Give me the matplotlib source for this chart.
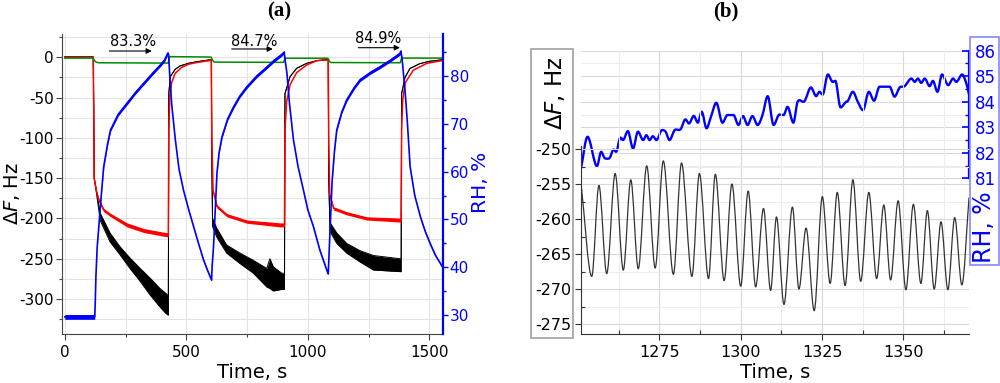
import matplotlib
matplotlib.use('Agg')
import matplotlib.pyplot as plt
from matplotlib.ticker import FixedLocator, MultipleLocator
from matplotlib.patches import Rectangle, PathPatch
from matplotlib.path import Path
import numpy as np

plt.rcParams['font.family'] = ['DejaVu Sans']
plt.rcParams['axes.unicode_minus'] = False
plt.rcParams['mathtext.fontset'] = 'dejavusans'

# ---------------- Panel (a) data ----------------
# black trace: upper / lower envelope of the noisy signal (Hz)
black_t = [0, 117, 119, 121, 130, 141, 145, 186, 227, 268, 310, 351, 392, 416, 426,
           428, 434, 454, 474, 508, 543, 590, 603, 605, 608, 625, 666, 721, 776, 831,
           844, 858, 893, 904, 906, 913, 927, 954, 995, 1037, 1080, 1084, 1086, 1091, 1119,
           1160, 1215, 1270, 1325, 1380, 1384, 1386, 1400, 1420, 1460, 1500, 1555]
black_top = [0.5, 0.5, -60, -150, -165, -186, -193, -218, -235, -249, -262, -274, -287, -293, -296,
             -45, -24, -15, -10.8, -7.5, -5.5, -3.4, -3, -130, -200, -212, -233, -243, -252, -262,
             -250, -260, -268, -268, -45, -38, -24, -13.7, -7.5, -4.2, -3, -3, -150, -205, -218,
             -231, -240, -246, -248, -250, -250, -45, -25, -14, -8, -5, -3]
black_bot = [0.5, 0.5, -60, -150, -168, -192, -202, -229, -245, -262, -278, -295, -310, -318, -320,
             -45, -24, -15, -10.8, -7.5, -5.5, -3.4, -3, -130, -210, -223, -243, -256, -268, -285,
             -287, -290, -288, -288, -45, -38, -24, -13.7, -7.5, -4.2, -3, -3, -150, -216, -231,
             -243, -254, -264, -265, -266, -266, -45, -25, -14, -8, -5, -3]

# red trace (Hz): centre line and noise half-width
red_t = [0, 117, 119, 121, 130, 140, 160, 188, 256, 325, 424, 426, 428, 432, 439,
         454, 481, 508, 543, 590, 603, 605, 610, 626, 667, 750, 887, 904, 906, 913,
         927, 954, 995, 1037, 1080, 1084, 1086, 1090, 1106, 1160, 1243, 1380, 1384, 1386, 1390,
         1400, 1434, 1490, 1555]
red_mid = [0, 0, -60, -150, -166, -177, -189.5, -195.7, -208, -215, -220.5, -220.5, -90, -50, -32,
           -20, -12.5, -8.7, -6.5, -4, -3.5, -100, -165, -185, -196, -204, -208, -208, -90, -55,
           -34, -19, -9.6, -4.2, -3, -3, -100, -170, -187.5, -193.6, -200, -202, -202, -90, -55,
           -32, -16, -7.5, -4]
red_noise = [0.5, 0.5, 0, 0, 1, 2, 2, 2, 2.5, 2.5, 2.5, 2.5, 0, 0, 0,
             0, 0, 0, 0, 0.5, 0.5, 0, 1, 2, 2, 2, 2.5, 2.5, 0, 0,
             0, 0, 0, 0, 0.5, 0.5, 0, 1, 2, 2, 2, 2.5, 2.5, 0, 0,
             0, 0, 0, 0]

# green trace (Hz)
green_t = [0, 117, 122, 128, 140, 426, 428, 432, 600, 603, 608, 615, 900, 904, 906,
           1080, 1084, 1088, 1095, 1380, 1384, 1386, 1555]
green_v = [-1, -1, -4, -6, -6.8, -7.2, -3, 0.8, 0.3, 0, -3.5, -6, -6.3, -3, -1.2,
           -1.2, -1.5, -5, -6.5, -6.8, -3, -1, -1]

# blue RH trace (%): centre and noise half-width
blue_t = [0, 123, 125, 128, 133, 140, 150, 160, 175, 188, 220, 256, 290, 325, 360,
          393, 410, 424, 427, 432, 440, 455, 470, 489, 510, 530, 550, 571, 590, 604,
          606, 612, 620, 626, 635, 647, 670, 695, 720, 750, 790, 832, 860, 893, 903,
          906, 914, 925, 941, 960, 982, 1000, 1023, 1050, 1078, 1084, 1086, 1092, 1100, 1110,
          1119, 1140, 1160, 1190, 1215, 1260, 1297, 1340, 1379, 1383, 1388, 1400, 1410, 1421, 1440,
          1463, 1483, 1503, 1525, 1555]
blue_mid = [29.6, 29.6, 32, 38, 44, 48.5, 55, 61, 65.5, 68.7, 72, 74.3, 76.5, 78.5, 80.5,
            82.3, 83.3, 84.8, 84.5, 80, 74, 66.6, 60.5, 56, 52, 48.5, 45, 41.5, 39, 37.3,
            40, 44.3, 53, 59.6, 64, 67.3, 71, 73.6, 75.8, 77.8, 80, 81.9, 83.2, 84.5, 85.0,
            83.5, 80.6, 74, 66.6, 61, 56.1, 52, 48.5, 43.5, 39.4, 38.6, 41, 48.5, 58, 64.5,
            68.7, 72.5, 75, 77.5, 79.2, 80.8, 81.9, 83.3, 84.7, 85.2, 83.5, 77, 70, 61, 55,
            50.6, 47.5, 45, 42.5, 40.0]
blue_noise = [0.5, 0.5, 0.05, 0.05, 0.1, 0.15, 0.2, 0.25, 0.3, 0.3, 0.35, 0.35, 0.35, 0.35, 0.35,
              0.35, 0.35, 0.35, 0.1, 0.05, 0.05, 0.05, 0.05, 0.05, 0.1, 0.1, 0.1, 0.15, 0.15, 0.15,
              0.05, 0.05, 0.1, 0.15, 0.2, 0.25, 0.3, 0.35, 0.35, 0.35, 0.35, 0.35, 0.35, 0.35, 0.3,
              0.05, 0.05, 0.05, 0.05, 0.05, 0.05, 0.1, 0.1, 0.15, 0.15, 0.15, 0.05, 0.1, 0.15, 0.2,
              0.25, 0.3, 0.35, 0.35, 0.35, 0.35, 0.35, 0.35, 0.35, 0.3, 0.05, 0.05, 0.05, 0.05, 0.1,
              0.1, 0.15, 0.15, 0.15, 0.15]

annot_text = ['83.3%', '84.7%', '84.9%']
annot_tx = [281, 779, 1290]
annot_ty = [20.0, 20.2, 23.6]
arrow_x0 = [183, 687, 1208]
arrow_x1 = [358, 856, 1379]
arrow_y = [7.8, 10.3, 11.9]

# ---------------- Panel (b) data ----------------
# black trace: successive extrema (Hz)
b_t = [1250.9, 1254.2, 1256.4, 1258.8, 1261.4, 1263.9, 1266.2, 1268.5, 1271.1, 1273.7,
       1276.2, 1279.3, 1281.8, 1285.0, 1287.3, 1290.1, 1292.2, 1294.9, 1297.3, 1300.0,
       1302.3, 1304.6, 1307.0, 1309.2, 1311.0, 1313.3, 1315.9, 1317.9, 1320.1, 1322.6,
       1325.1, 1327.5, 1329.7, 1332.1, 1334.5, 1336.9, 1339.4, 1341.8, 1344.0, 1346.1,
       1348.4, 1350.8, 1353.1, 1355.4, 1357.4, 1359.5, 1361.6, 1363.7, 1365.8, 1368.0, 1370.2]
b_hz = [-254.9, -268.2, -255.2, -267.8, -253.5, -267.3, -254.4, -267.1, -252.4, -267.0,
        -251.7, -267.9, -252.0, -268.2, -253.5, -268.5, -253.6, -268.8, -255.0, -269.6,
        -256.0, -269.7, -258.5, -270.2, -259.7, -272.2, -258.3, -270.0, -261.3, -273.1,
        -256.8, -269.2, -256.2, -269.5, -254.4, -268.9, -256.2, -268.5, -258.0, -268.7,
        -257.4, -270.1, -257.9, -269.2, -258.8, -270.0, -260.4, -270.1, -259.8, -269.4, -257.0]

# blue RH trace (%)
b_rh_t = [1250.9, 1252.9, 1255.8, 1257.1, 1258.3, 1259.7, 1260.9, 1261.7, 1263.0, 1263.8,
          1265.3, 1266.9, 1268.4, 1270.0, 1271.0, 1272.0, 1273.0, 1274.1, 1275.8, 1276.9,
          1278.1, 1279.7, 1281.5, 1283.0, 1284.1, 1285.6, 1286.8, 1288.0, 1289.5, 1290.8,
          1292.5, 1294.4, 1295.9, 1297.8, 1299.3, 1300.7, 1302.1, 1303.6, 1305.2, 1306.7,
          1308.3, 1310.1, 1311.9, 1313.2, 1314.4, 1316.2, 1317.5, 1319.6, 1321.6, 1323.2,
          1324.2, 1325.2, 1326.8, 1328.3, 1329.1, 1330.7, 1332.4, 1332.9, 1334.5, 1336.0,
          1337.6, 1339.4, 1341.0, 1342.7, 1345.8, 1347.3, 1348.9, 1350.4, 1352.5, 1353.5,
          1354.5, 1355.5, 1356.6, 1358.1, 1359.1, 1360.5, 1361.9, 1363.8, 1365.3, 1366.3,
          1368.1, 1369.4, 1370.2]
b_rh = [81.39, 82.63, 81.48, 82.04, 81.78, 81.80, 82.13, 82.04, 82.60, 82.50,
        82.85, 82.17, 82.83, 82.50, 82.69, 82.50, 82.65, 82.50, 82.89, 82.83,
        82.50, 82.89, 82.92, 83.31, 83.15, 83.45, 83.18, 83.61, 82.96, 83.39,
        83.96, 83.18, 83.48, 83.48, 83.09, 83.44, 83.09, 83.44, 83.09, 83.48,
        84.22, 83.09, 83.50, 83.48, 83.80, 83.18, 84.00, 84.02, 84.56, 84.22,
        84.39, 84.28, 85.07, 84.78, 84.82, 83.78, 84.00, 84.02, 84.39, 84.00,
        83.67, 84.39, 84.04, 84.59, 84.59, 84.20, 84.56, 84.61, 84.91, 84.78,
        84.91, 84.74, 84.91, 84.61, 84.82, 84.39, 85.07, 84.65, 84.91, 84.78,
        85.07, 84.71, 84.29]

a_xticks = [0, 500, 1000, 1500]
a_yticks = [-300, -250, -200, -150, -100, -50, 0]
a_rhticks = [30, 40, 50, 60, 70, 80]
b_xticks = [1275, 1300, 1325, 1350]
b_yticks = [-275, -270, -265, -260, -255, -250]
b_rhticks = [81, 82, 83, 84, 85, 86]

BLUE = '#0000ff'
GRID = '#e3e3e3'


def smooth_patch(x, y, **kw):
    """Smooth (monotone cubic Bezier) rendering of a polyline through the given points."""
    x = np.asarray(x, float)
    y = np.asarray(y, float)
    n = len(x)
    m = np.zeros(n)
    for i in range(n):
        if i == 0:
            m[i] = (y[1] - y[0]) / (x[1] - x[0])
        elif i == n - 1:
            m[i] = (y[-1] - y[-2]) / (x[-1] - x[-2])
        else:
            d0 = y[i] - y[i - 1]
            d1 = y[i + 1] - y[i]
            if d0 * d1 <= 0:
                m[i] = 0.0
            else:
                m[i] = (y[i + 1] - y[i - 1]) / (x[i + 1] - x[i - 1])
    verts = [(x[0], y[0])]
    codes = [Path.MOVETO]
    for i in range(n - 1):
        dx = x[i + 1] - x[i]
        verts += [(x[i] + dx / 3, y[i] + m[i] * dx / 3),
                  (x[i + 1] - dx / 3, y[i + 1] - m[i + 1] * dx / 3),
                  (x[i + 1], y[i + 1])]
        codes += [Path.CURVE4] * 3
    return PathPatch(Path(verts, codes), fill=False, joinstyle='round',
                     capstyle='round', zorder=3, **kw)


fig = plt.figure(figsize=(10, 3.83), dpi=100)

# ================= Panel (a) =================
axA = fig.add_axes([0.062, 0.1271, 0.3807, 0.7833])
axA2 = axA.twinx()

axA.fill_between(black_t, black_bot, black_top, color='black', lw=0, zorder=2)
axA.plot(black_t, black_top, color='black', lw=0.7, zorder=2)
axA.plot(black_t, black_bot, color='black', lw=0.7, zorder=2)

rm = np.array(red_mid); rn = np.array(red_noise)
axA.fill_between(red_t, rm - rn, rm + rn, color='#ff0000', lw=0, zorder=3)
axA.plot(red_t, red_mid, color='#ff0000', lw=1.1, zorder=3)

axA.plot(green_t, green_v, color='#008a00', lw=1.1, zorder=3)

bm = np.array(blue_mid); bn = np.array(blue_noise)
axA2.fill_between(blue_t, bm - bn, bm + bn, color=BLUE, lw=0, zorder=3)
axA2.plot(blue_t, blue_mid, color=BLUE, lw=1.2, zorder=3)

for s, tx, ty, x0, x1, ay in zip(annot_text, annot_tx, annot_ty, arrow_x0, arrow_x1, arrow_y):
    axA.text(tx, ty, s, ha='center', va='center', fontsize=10.5, zorder=5)
    axA.annotate('', xy=(x1, ay), xytext=(x0, ay),
                 arrowprops=dict(arrowstyle='-|>', color='black', lw=0.8,
                                 mutation_scale=8, shrinkA=0, shrinkB=0), zorder=5)

axA.set_xlim(-11.5, 1555)
axA.set_ylim(-343.8, 28.5)
axA2.set_ylim(25.96, 88.72)

axA.xaxis.set_major_locator(FixedLocator(a_xticks))
axA.xaxis.set_minor_locator(MultipleLocator(250))
axA.yaxis.set_major_locator(FixedLocator(a_yticks))
axA.yaxis.set_minor_locator(MultipleLocator(25))
axA2.yaxis.set_major_locator(FixedLocator(a_rhticks))
axA2.yaxis.set_minor_locator(MultipleLocator(5))

axA.grid(which='both', color=GRID, lw=0.8)
axA.set_axisbelow(True)

for sp in ['top', 'right']:
    axA.spines[sp].set_visible(False)
for sp in ['top', 'left', 'bottom']:
    axA2.spines[sp].set_visible(False)
axA.spines['left'].set_color('#444444')
axA.spines['bottom'].set_color('#444444')
axA2.spines['right'].set_color(BLUE)
axA2.spines['right'].set_linewidth(1.6)

axA.tick_params(which='major', direction='out', length=4, width=0.8, color='#444444',
                labelsize=11, pad=2)
axA.tick_params(which='minor', direction='out', length=2.5, width=0.8, color='#444444')
axA.tick_params(axis='x', which='major', pad=4)
axA2.tick_params(which='major', direction='out', length=3.5, width=1, colors=BLUE,
                 labelsize=11, pad=1.5)
axA2.tick_params(which='minor', direction='out', length=2.5, width=1, colors=BLUE)

fig.text(0.0125, 1 - 193 / 383, r'$\mathit{ΔF}$, Hz', rotation=90, ha='center', va='center',
         fontsize=14)
fig.text(0.481, 1 - 182.5 / 383, 'RH, %', rotation=90, ha='center', va='center',
         fontsize=14.5, color=BLUE)
fig.text(0.252, 1 - 372 / 383, 'Time, s', ha='center', va='center', fontsize=14)
fig.text(0.279, 1 - 11.7 / 383, '(a)', ha='center', va='center', fontsize=15,
         family='Liberation Serif', weight='bold')

# ================= Panel (b) =================
axB = fig.add_axes([0.5807, 0.1271, 0.3883, 0.7405])
axB2 = axB.twinx()
axB.set_zorder(axB2.get_zorder() + 1)
axB.patch.set_visible(False)

axB.add_patch(smooth_patch(b_t, b_hz, ec='#333333', lw=0.9))
axB2.add_patch(smooth_patch(b_rh_t, b_rh, ec=BLUE, lw=1.7))

axB.set_xlim(1250.8, 1370.2)
axB.set_ylim(-276.47, -235.96)
axB2.set_ylim(74.89, 86.0)

axB.xaxis.set_major_locator(FixedLocator(b_xticks))
axB.xaxis.set_minor_locator(FixedLocator([1262.5, 1287.5, 1312.5, 1337.5, 1362.5]))
axB.yaxis.set_major_locator(FixedLocator(b_yticks))
axB.yaxis.set_minor_locator(FixedLocator([-272.5, -267.5, -262.5, -257.5, -252.5]))
axB2.yaxis.set_major_locator(FixedLocator(b_rhticks))
axB2.yaxis.set_minor_locator(FixedLocator([81.5, 82.5, 83.5, 84.5, 85.5]))

axB.grid(axis='x', which='major', color='#d8d8d8', lw=0.8)
axB.grid(axis='x', which='minor', color='#ededed', lw=0.8)
axB.grid(axis='y', which='major', color='#d8d8d8', lw=0.8)
axB.grid(axis='y', which='minor', color='#ededed', lw=0.8)
axB2.grid(axis='y', which='major', color='#d8d8d8', lw=0.8)
axB2.grid(axis='y', which='minor', color='#ededed', lw=0.8)
axB.set_axisbelow(True)
axB2.set_axisbelow(True)

for sp in ['top', 'right']:
    axB.spines[sp].set_visible(False)
for sp in ['top', 'left', 'bottom']:
    axB2.spines[sp].set_visible(False)
axB.spines['left'].set_bounds(-276.47, -249.6)
axB.spines['left'].set_color('#333333')
axB.spines['bottom'].set_color('#333333')
axB2.spines['right'].set_bounds(81, 86)
axB2.spines['right'].set_color(BLUE)
axB2.spines['right'].set_linewidth(1.6)

axB.tick_params(which='major', direction='out', length=4, width=0.8, color='#333333',
                labelsize=11.5, pad=2.5)
axB.tick_params(which='minor', direction='in', length=3, width=0.8, color='#333333')
axB.tick_params(axis='x', which='major', pad=4)
axB2.tick_params(which='major', direction='in', length=5, width=1.2, colors=BLUE,
                 labelsize=12, pad=4)
axB2.tick_params(which='minor', direction='in', length=3, width=1, colors=BLUE)

fig.text(0.555, 1 - 93.3 / 383, r'$\mathit{ΔF}$, Hz', rotation=90, ha='center', va='center',
         fontsize=16.5)
fig.text(0.9845, 1 - 226.7 / 383, 'RH, %', rotation=90, ha='center', va='center',
         fontsize=17, color=BLUE)
fig.text(0.775, 1 - 372 / 383, 'Time, s', ha='center', va='center', fontsize=14)
fig.text(0.7257, 1 - 11.7 / 383, '(b)', ha='center', va='center', fontsize=15,
         family='Liberation Serif', weight='bold')

fig.add_artist(Rectangle((0.5305, 1 - 337.5 / 383), 0.0425, 289 / 383,
                         transform=fig.transFigure, fill=False, ec='#a0a0a0', lw=1.2))
fig.add_artist(Rectangle((0.9702, 1 - 265.3 / 383), 0.0285, 228.6 / 383,
                         transform=fig.transFigure, fill=False, ec='#8888ff', lw=1.2))

fig.savefig('out.png', dpi=100)
